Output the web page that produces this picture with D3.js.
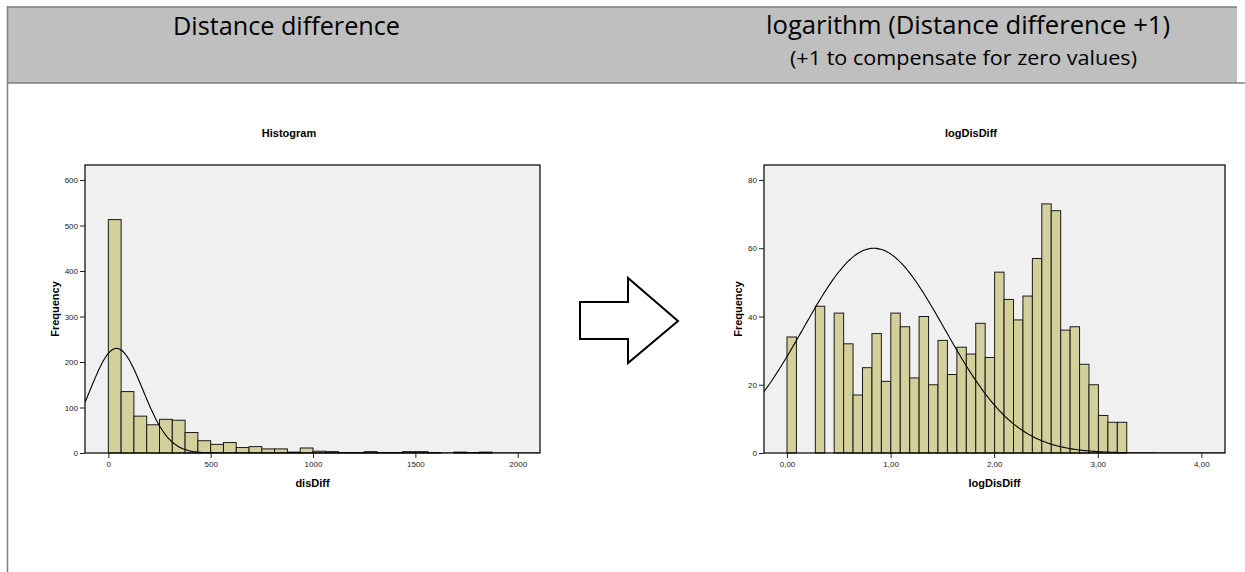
<!DOCTYPE html>
<html>
<head>
<meta charset="utf-8">
<title>Distance difference histograms</title>
<script src="https://cdn.jsdelivr.net/npm/d3@7"></script>
<style>
  body { margin: 0; background: #fff; }
  svg text { font-family: "Liberation Sans", Arial, sans-serif; }
  .hdr { font-family: "Open Sans", "Noto Sans", sans-serif !important; fill: #000; }
</style>
</head>
<body>
<div id="page"></div>
<script>
// left histogram: disDiff, bins of 62.5 starting at 0
var disDiffBinStart = 0;
var disDiffBinWidth = 62.5;
var disDiffCounts = [513, 135, 81, 62, 74, 72, 45, 27, 19, 23, 12, 14, 9, 9, 2, 11,
                     4, 3, 1, 1, 3, 1, 1, 3, 3, 1, 0, 2, 1, 2];
var disDiffXTicks = [0, 500, 1000, 1500, 2000];
var disDiffYTicks = [0, 100, 200, 300, 400, 500, 600];
var disDiffCurve = { mean: 40, sd: 128, peak: 230 };

// right histogram: logDisDiff, 36 bins from 0 to ~3.28
var logBinStart = 0;
var logBinWidth = 0.0911;
var logCounts = [34, 0, 0, 43, 0, 41, 32, 17, 25, 35, 21, 41, 37, 22, 40, 20, 33, 23,
                 31, 29, 38, 28, 53, 45, 39, 46, 57, 73, 71, 36, 37, 26, 20, 11, 9, 9];
var logXTicks = [0, 1, 2, 3, 4];
var logXTickLabels = ["0,00", "1,00", "2,00", "3,00", "4,00"];
var logYTicks = [0, 20, 40, 60, 80];
var logCurve = { mean: 0.838, sd: 0.683, peak: 60 };

var W = 1245, H = 572;
var svg = d3.select("#page").append("svg").attr("width", W).attr("height", H);

// header band
svg.append("rect").attr("x", 7).attr("y", 7).attr("width", 1230).attr("height", 76)
    .attr("fill", "#bfbfbf");
svg.append("line").attr("x1", 7).attr("x2", 1237).attr("y1", 7).attr("y2", 7)
    .attr("stroke", "#808080").attr("stroke-width", 1.5);
svg.append("line").attr("x1", 7).attr("x2", 1245).attr("y1", 83).attr("y2", 83)
    .attr("stroke", "#808080").attr("stroke-width", 1.5);
svg.append("line").attr("x1", 7.5).attr("x2", 7.5).attr("y1", 6).attr("y2", H)
    .attr("stroke", "#808080").attr("stroke-width", 1.5);

svg.append("text").attr("class", "hdr").attr("x", 173).attr("y", 35)
    .attr("font-size", 25).attr("textLength", 227).attr("lengthAdjust", "spacingAndGlyphs")
    .text("Distance difference");
svg.append("text").attr("class", "hdr").attr("x", 766).attr("y", 34)
    .attr("font-size", 25).attr("textLength", 404).attr("lengthAdjust", "spacingAndGlyphs")
    .text("logarithm (Distance difference +1)");
svg.append("text").attr("class", "hdr").attr("x", 790).attr("y", 65)
    .attr("font-size", 20).attr("textLength", 347).attr("lengthAdjust", "spacingAndGlyphs")
    .text("(+1 to compensate for zero values)");

// arrow between the charts
svg.append("polygon")
    .attr("points", [[580, 302], [628, 302], [628, 278], [678, 321], [628, 363], [628, 339], [580, 339]].join(" "))
    .attr("fill", "#fff").attr("stroke", "#000").attr("stroke-width", 2);

var drawHistogram = function (o) {
    var x = d3.scaleLinear().domain(o.xDomain).range([o.left, o.right]);
    var y = d3.scaleLinear().domain(o.yDomain).range([o.bottom, o.top]);
    var g = svg.append("g");
    var clipId = "clip" + Math.round(o.left);

    g.append("clipPath").attr("id", clipId).append("rect")
        .attr("x", o.left).attr("y", o.top)
        .attr("width", o.right - o.left).attr("height", o.bottom - o.top);

    g.append("rect").attr("x", o.left).attr("y", o.top)
        .attr("width", o.right - o.left).attr("height", o.bottom - o.top)
        .attr("fill", "#f0f0f0");

    var bins = o.counts.map(function (c, i) {
        return { x0: o.binStart + i * o.binWidth, x1: o.binStart + (i + 1) * o.binWidth, n: c };
    }).filter(function (d) { return d.n > 0; });

    g.selectAll("rect.bar").data(bins).enter().append("rect")
        .attr("class", "bar")
        .attr("x", function (d) { return x(d.x0); })
        .attr("y", function (d) { return y(d.n); })
        .attr("width", function (d) { return x(d.x1) - x(d.x0); })
        .attr("height", function (d) { return y(0) - y(d.n); })
        .attr("fill", "#d4d09c")
        .attr("stroke", "#1a1a1a")
        .attr("stroke-width", 1);

    // normal curve
    var xs = d3.range(0, 301).map(function (i) {
        return o.xDomain[0] + i * (o.xDomain[1] - o.xDomain[0]) / 300;
    });
    var line = d3.line()
        .x(function (v) { return x(v); })
        .y(function (v) {
            var z = (v - o.curve.mean) / o.curve.sd;
            return y(o.curve.peak * Math.exp(-0.5 * z * z));
        })
        .curve(d3.curveBasis);
    g.append("path").datum(xs).attr("d", line)
        .attr("fill", "none").attr("stroke", "#000").attr("stroke-width", 1.1)
        .attr("clip-path", "url(#" + clipId + ")");

    g.append("rect").attr("x", o.left).attr("y", o.top)
        .attr("width", o.right - o.left).attr("height", o.bottom - o.top)
        .attr("fill", "none").attr("stroke", "#000").attr("stroke-width", 1.2);

    var xAxis = d3.axisBottom(x).tickValues(o.xTicks).tickSize(5).tickPadding(3)
        .tickFormat(function (d, i) { return o.xLabels ? o.xLabels[i] : d; });
    var gx = g.append("g").attr("transform", "translate(0," + o.bottom + ")").call(xAxis);
    gx.select(".domain").remove();

    var yAxis = d3.axisLeft(y).tickValues(o.yTicks).tickSize(5).tickPadding(2);
    var gy = g.append("g").attr("transform", "translate(" + o.left + ",0)").call(yAxis);
    gy.select(".domain").remove();

    g.selectAll(".tick text").attr("font-size", 8).attr("fill", "#222")
        .style("font-family", "'Liberation Sans', Arial, sans-serif");
    g.selectAll(".tick line").attr("stroke", "#222");

    g.append("text").attr("x", o.titleX).attr("y", 137).attr("text-anchor", "middle")
        .attr("font-size", 11).attr("font-weight", "bold").text(o.title);
    g.append("text").attr("x", (o.left + o.right) / 2).attr("y", 487).attr("text-anchor", "middle")
        .attr("font-size", 11).attr("font-weight", "bold").text(o.xTitle);
    g.append("text").attr("transform", "translate(" + o.yTitleX + "," + ((o.top + o.bottom) / 2) + ") rotate(-90)")
        .attr("text-anchor", "middle").attr("font-size", 11).attr("font-weight", "bold")
        .text("Frequency");
};

drawHistogram({
    left: 85, right: 540, top: 165, bottom: 453,
    xDomain: [-114, 2109], yDomain: [0, 633],
    binStart: disDiffBinStart, binWidth: disDiffBinWidth, counts: disDiffCounts,
    xTicks: disDiffXTicks, yTicks: disDiffYTicks, curve: disDiffCurve,
    title: "Histogram", titleX: 289, xTitle: "disDiff", yTitleX: 59
});

drawHistogram({
    left: 764, right: 1225, top: 165, bottom: 453,
    xDomain: [-0.222, 4.228], yDomain: [0, 84.4],
    binStart: logBinStart, binWidth: logBinWidth, counts: logCounts,
    xTicks: logXTicks, xLabels: logXTickLabels, yTicks: logYTicks, curve: logCurve,
    title: "logDisDiff", titleX: 971, xTitle: "logDisDiff", yTitleX: 742
});
</script>
</body>
</html>
